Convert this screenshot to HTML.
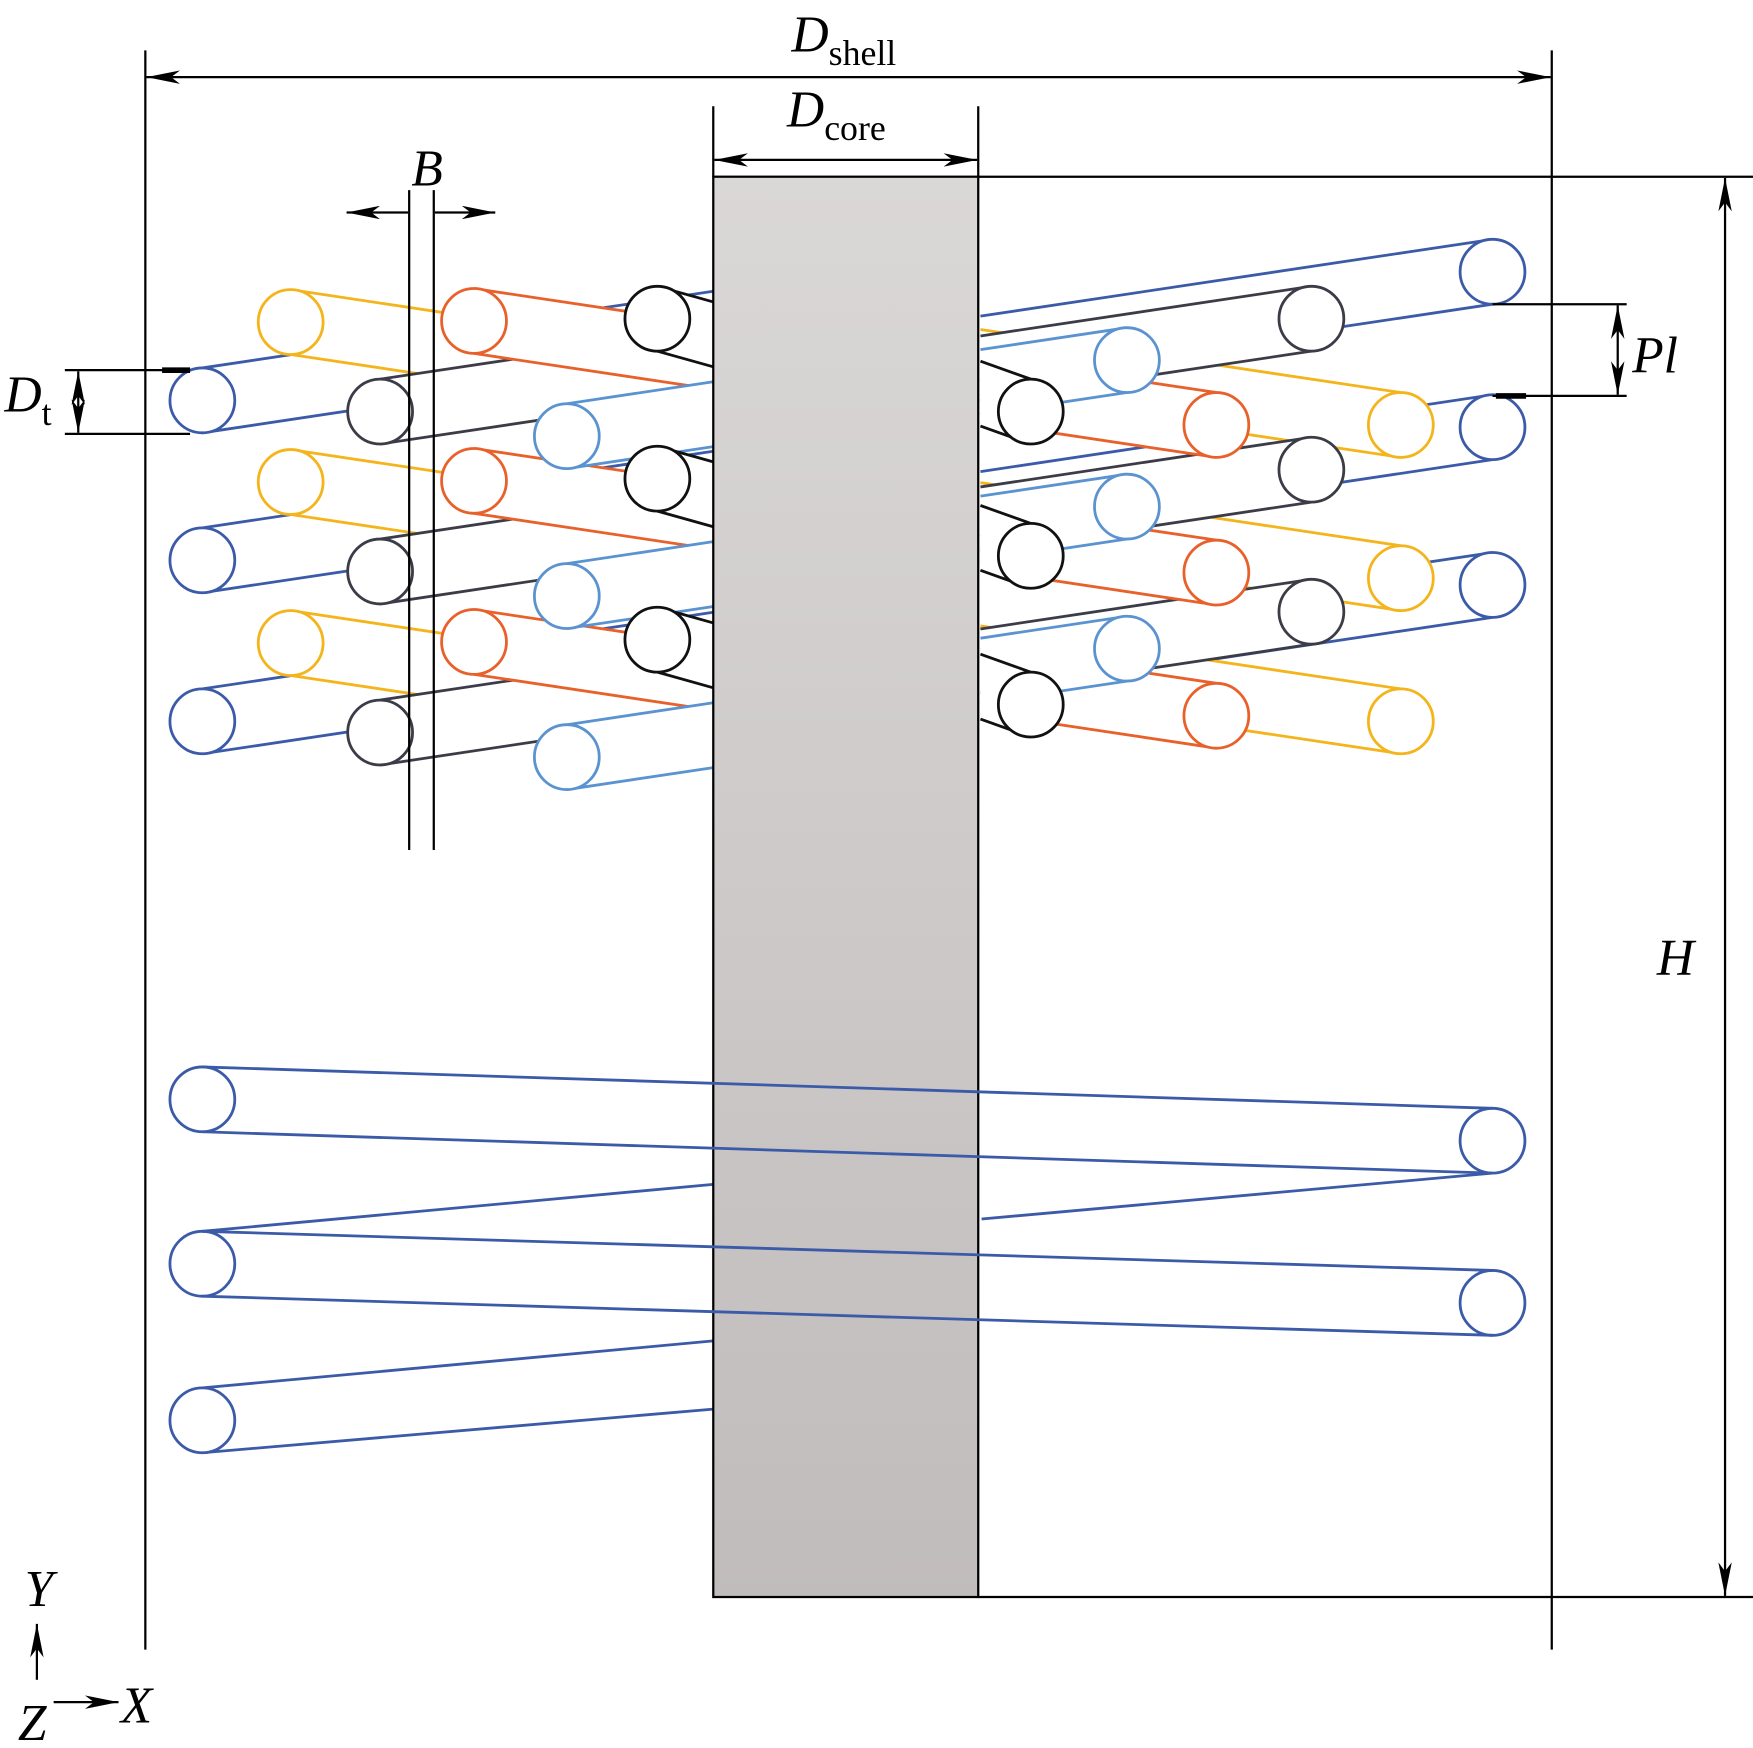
<!DOCTYPE html>
<html><head><meta charset="utf-8"><style>
html,body{margin:0;padding:0;background:#fff}
svg{display:block}
text{font-family:"Liberation Serif",serif;font-style:italic;fill:#000}
</style></head><body>
<svg id="s" width="1753" height="1748" viewBox="0 0 1568 1563" preserveAspectRatio="none" xmlns="http://www.w3.org/2000/svg">
<defs>
<linearGradient id="g" x1="0" y1="0" x2="0" y2="1"><stop offset="0" stop-color="#dad7d7"/><stop offset="1" stop-color="#c1bcbc"/></linearGradient>
<marker id="b" viewBox="0 0 30 12" refX="30" refY="6" markerWidth="30" markerHeight="12" orient="auto-start-reverse" markerUnits="userSpaceOnUse"><path d="M0,0 L30,6 L0,12 L8,6 z" fill="#000"/></marker>
</defs>
<g id="back"></g>
<rect x="638" y="158" width="237" height="1270" fill="url(#g)" stroke="#000" stroke-width="2"/>
<g id="front"></g>
<g stroke="#000" stroke-width="2" fill="none">
<line x1="130" y1="45" x2="130" y2="1475"/><line x1="1388" y1="45" x2="1388" y2="1475"/>
<line x1="131" y1="69" x2="1387" y2="69" marker-start="url(#b)" marker-end="url(#b)"/>
<line x1="638" y1="95" x2="638" y2="158"/><line x1="875" y1="95" x2="875" y2="158"/>
<line x1="639" y1="143" x2="874" y2="143" marker-start="url(#b)" marker-end="url(#b)"/>
<line x1="875" y1="158" x2="1568" y2="158"/><line x1="875" y1="1428" x2="1568" y2="1428"/>
<line x1="1543" y1="159" x2="1543" y2="1427" marker-start="url(#b)" marker-end="url(#b)"/>
<line x1="1335" y1="272" x2="1455" y2="272"/><line x1="1335" y1="354" x2="1455" y2="354"/>
<line x1="1447" y1="273" x2="1447" y2="353" marker-start="url(#b)" marker-end="url(#b)"/>
<line x1="58" y1="331" x2="170" y2="331"/><line x1="58" y1="388" x2="170" y2="388"/>
<line x1="70" y1="332" x2="70" y2="387" marker-start="url(#b)" marker-end="url(#b)"/>
<line x1="366" y1="170" x2="366" y2="760"/><line x1="388" y1="170" x2="388" y2="760"/>
<line x1="365" y1="190" x2="310" y2="190" marker-end="url(#b)"/>
<line x1="389" y1="190" x2="443" y2="190" marker-end="url(#b)"/>
<line x1="33" y1="1502" x2="33" y2="1452" marker-end="url(#b)"/>
<line x1="48" y1="1522" x2="106" y2="1522" marker-end="url(#b)"/>
</g>
<g stroke="#000" stroke-width="5"><line x1="145" y1="331" x2="170" y2="331"/><line x1="1338" y1="354" x2="1365" y2="354"/></g>
<text x="708" y="46" font-size="46">D<tspan font-style="normal" font-size="32" dy="12">shell</tspan></text>
<text x="704" y="113" font-size="46">D<tspan font-style="normal" font-size="32" dy="12">core</tspan></text>
<text x="368" y="166" font-size="46">B</text>
<text x="4" y="368" font-size="46">D<tspan font-style="normal" font-size="32" dy="12">t</tspan></text>
<text x="1460" y="333" font-size="46">Pl</text>
<text x="1482" y="872" font-size="46">H</text>
<text x="22" y="1436" font-size="46">Y</text>
<text x="16" y="1556" font-size="46">Z</text>
<text x="108" y="1540" font-size="46">X</text>
</svg>
<script>
var NS="http://www.w3.org/2000/svg";
var back=document.getElementById('back'),front=document.getElementById('front');
function el(p,t,a){var e=document.createElementNS(NS,t);for(var k in a)e.setAttribute(k,a[k]);p.appendChild(e);return e;}
function ln(p,x1,y1,x2,y2,c){el(p,'line',{x1:x1,y1:y1,x2:x2,y2:y2,stroke:c,'stroke-width':2.5});}
function tube(cx,cy,ex,ey,c,p){p=p||back;var r=29;
 el(p,'polygon',{points:cx+','+(cy-r)+' '+ex+','+(ey-r)+' '+ex+','+(ey+r)+' '+cx+','+(cy+r),fill:'#fff'});
 ln(p,cx,cy-r,ex,ey-r,c);ln(p,cx,cy+r,ex,ey+r,c);
 el(p,'circle',{cx:cx,cy:cy,r:r,fill:'#fff',stroke:c,'stroke-width':2.5});}
var BL='#3b5aa8',YE='#f4b41c',OR='#e8602a',LB='#5b93d0',GR='#3c3c48',BK='#111';
var S=0.15;
// left block: tubes end at core x=638
var Ld=[0,143,287];
function L(cx,cy,c,sgn){Ld.forEach(function(d){tube(cx,cy+d,638,cy+d+sgn*S*(638-cx),c);});}
L(181,358,BL,-1);
L(260,288,YE,1);
L(340,368,GR,-1);
L(424,287,OR,1);
L(507,390,LB,-1);
Ld.forEach(function(d){tube(588,285+d,638,299+d,BK);});
// right block: tubes end at core x=878
var rb={BL:[243,382,523],GR:[285,420,547],LB:[322,453,580],BK:[368,497,630],OR:[380,512,640],YE:[380,517,645]};
function R(cx,ys,c,sgn){ys.forEach(function(y){tube(cx,y,877,y+sgn*S*(cx-877),c);});}
R(1335,rb.BL,BL,1);
R(1253,rb.YE,YE,-1);
R(1173,rb.GR,GR,1);
R(1088,rb.OR,OR,-1);
R(1008,rb.LB,LB,1);
rb.BK.forEach(function(y){tube(922,y,877,y-16,BK);});
// bottom helix
ln(back,181,1101,638,1059,BL);ln(back,878,1090,1335,1049,BL);
ln(back,181,1241,638,1199,BL);ln(back,181,1299,638,1260,BL);
el(back,'circle',{cx:181,cy:1270,r:29,fill:'#fff',stroke:BL,'stroke-width':2.5});
ln(front,181,954,1335,991,BL);ln(front,181,1012,1335,1049,BL);
ln(front,181,1101,1335,1136,BL);ln(front,181,1159,1335,1194,BL);
[[181,983],[181,1130],[1335,1020],[1335,1165]].forEach(function(p){el(front,'circle',{cx:p[0],cy:p[1],r:29,fill:'none',stroke:BL,'stroke-width':2.5});});
</script>
</body></html>
